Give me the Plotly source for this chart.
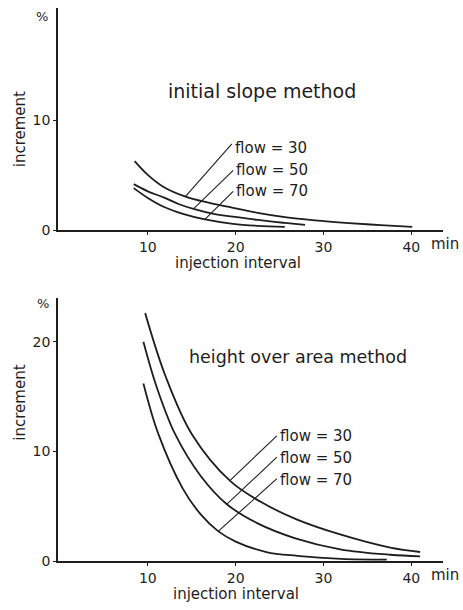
import plotly.graph_objects as go

W, H = 463, 610

# ---- top panel: initial slope method ----
top_x30 = [8.5, 10, 11.8, 14.3, 17, 19.7, 22.5, 25.6, 29, 32.9, 36.5, 40.1]
top_y30 = [6.3, 5.05, 3.95, 3.07, 2.5, 2.05, 1.6, 1.21, 0.92, 0.67, 0.48, 0.32]
top_x50 = [8.4, 10, 11.8, 13.5, 15.2, 17.5, 19.7, 22.5, 25.6, 27.9]
top_y50 = [4.2, 3.55, 3.0, 2.4, 1.95, 1.5, 1.25, 0.95, 0.68, 0.5]
top_x70 = [8.4, 10, 11.8, 14, 16.5, 19.7, 22.5, 25.6]
top_y70 = [3.84, 2.95, 2.15, 1.5, 1.0, 0.6, 0.42, 0.32]

# ---- bottom panel: height over area method ----
bot_x30 = [9.7, 12.0, 15.0, 19.4, 23.0, 27.0, 31.9, 37.6, 41.0]
bot_y30 = [22.6, 16.9, 11.6, 7.3, 5.35, 3.8, 2.45, 1.25, 0.85]
bot_x50 = [9.5, 11, 13.1, 16, 19.0, 22.5, 26.8, 31.9, 37.6, 41.0]
bot_y50 = [20.0, 15.9, 11.6, 7.8, 5.2, 3.46, 2.1, 1.1, 0.6, 0.45]
bot_x70 = [9.5, 11.2, 14, 16, 18.0, 20, 23.5, 27, 32, 37.2]
bot_y70 = [16.2, 11.6, 6.6, 4.3, 2.75, 1.8, 0.85, 0.5, 0.22, 0.15]

flow_labels = ["flow = 30", "flow = 50", "flow = 70"]

# leader lines: (label end) -> (curve end)
top_lead_x0 = [19.57, 19.72, 19.72]
top_lead_y0 = [7.85, 5.45, 3.54]
top_lead_x1 = [14.27, 15.2, 16.5]
top_lead_y1 = [3.07, 1.95, 1.0]
top_lab_y = [7.45, 5.45, 3.54]

bot_lead_x0 = [24.69, 24.69, 24.69]
bot_lead_y0 = [11.42, 9.48, 7.53]
bot_lead_x1 = [19.37, 19.0, 18.04]
bot_lead_y1 = [7.38, 5.2, 2.75]
bot_lab_y = [11.42, 9.44, 7.44]

x_ticks = [10, 20, 30, 40]
top_y_ticks = [0, 10]
bot_y_ticks = [0, 10, 20]

INK = "#1e1e1e"
FONT = "DejaVu Sans"
fig = go.Figure()

def curve(x, y, xa, ya):
    fig.add_trace(go.Scatter(x=x, y=y, mode="lines", xaxis=xa, yaxis=ya,
                             line=dict(color=INK, width=1.8, shape="spline", smoothing=1.0),
                             showlegend=False, hoverinfo="skip"))

for xs, ys in [(top_x30, top_y30), (top_x50, top_y50), (top_x70, top_y70)]:
    curve(xs, ys, "x", "y")
for xs, ys in [(bot_x30, bot_y30), (bot_x50, bot_y50), (bot_x70, bot_y70)]:
    curve(xs, ys, "x2", "y2")

for i in range(3):
    fig.add_trace(go.Scatter(x=[top_lead_x0[i], top_lead_x1[i]], y=[top_lead_y0[i], top_lead_y1[i]],
                             mode="lines", xaxis="x", yaxis="y", line=dict(color=INK, width=1.1),
                             showlegend=False, hoverinfo="skip"))
    fig.add_trace(go.Scatter(x=[bot_lead_x0[i], bot_lead_x1[i]], y=[bot_lead_y0[i], bot_lead_y1[i]],
                             mode="lines", xaxis="x2", yaxis="y2", line=dict(color=INK, width=1.1),
                             showlegend=False, hoverinfo="skip"))

ann = []
for i in range(3):
    ann.append(dict(x=top_lead_x0[i] + 0.1, y=top_lab_y[i], xref="x", yref="y", text=flow_labels[i],
                    showarrow=False, xanchor="left", yanchor="middle",
                    font=dict(family=FONT, size=15, color=INK)))
    ann.append(dict(x=bot_lead_x0[i] + 0.1, y=bot_lab_y[i], xref="x2", yref="y2", text=flow_labels[i],
                    showarrow=False, xanchor="left", yanchor="middle",
                    font=dict(family=FONT, size=15, color=INK)))

def pann(px, py, text, size, angle=0):
    ann.append(dict(x=px / W, y=1 - py / H, xref="paper", yref="paper", text=text,
                    showarrow=False, xanchor="center", yanchor="middle", textangle=angle,
                    font=dict(family=FONT, size=size, color=INK)))

pann(262, 92, "initial slope method", 19)
pann(298, 362, "height over area method", 17.5)
pann(42, 17, "%", 13)
pann(43, 308, "%", 13)
pann(20, 131, "increment", 15, -90)
pann(20, 408, "increment", 15, -90)
pann(238, 267, "injection interval", 15)
pann(236, 601.5, "injection interval", 15)
pann(445, 247, "min", 15)
pann(445, 583, "min", 15)

axis_common = dict(showline=True, linecolor=INK, linewidth=1.5, showgrid=False, zeroline=False,
                   ticks="outside", ticklen=3, tickcolor=INK, tickwidth=1,
                   tickfont=dict(family=FONT, size=14, color=INK))
xdom = [58 / W, 443 / W]
xr = [-0.22, 43.6]

fig.update_layout(
    width=W, height=H, margin=dict(l=0, r=0, t=0, b=0),
    paper_bgcolor="white", plot_bgcolor="white", showlegend=False,
    xaxis=dict(domain=xdom, range=xr, tickvals=x_ticks, anchor="y", **axis_common),
    yaxis=dict(domain=[1 - 233.5 / H, 1 - 8 / H], range=[0, 20.2], tickvals=top_y_ticks,
               anchor="x", **axis_common),
    xaxis2=dict(domain=xdom, range=xr, tickvals=x_ticks, anchor="y2", **axis_common),
    yaxis2=dict(domain=[1 - 568.8 / H, 1 - 301.7 / H], range=[0, 24.0], tickvals=bot_y_ticks,
                anchor="x2", **axis_common),
    annotations=ann,
)

fig.write_html("out.html", config={"displayModeBar": False},
               post_script="document.body.style.margin='0';document.body.style.overflow='hidden';")
